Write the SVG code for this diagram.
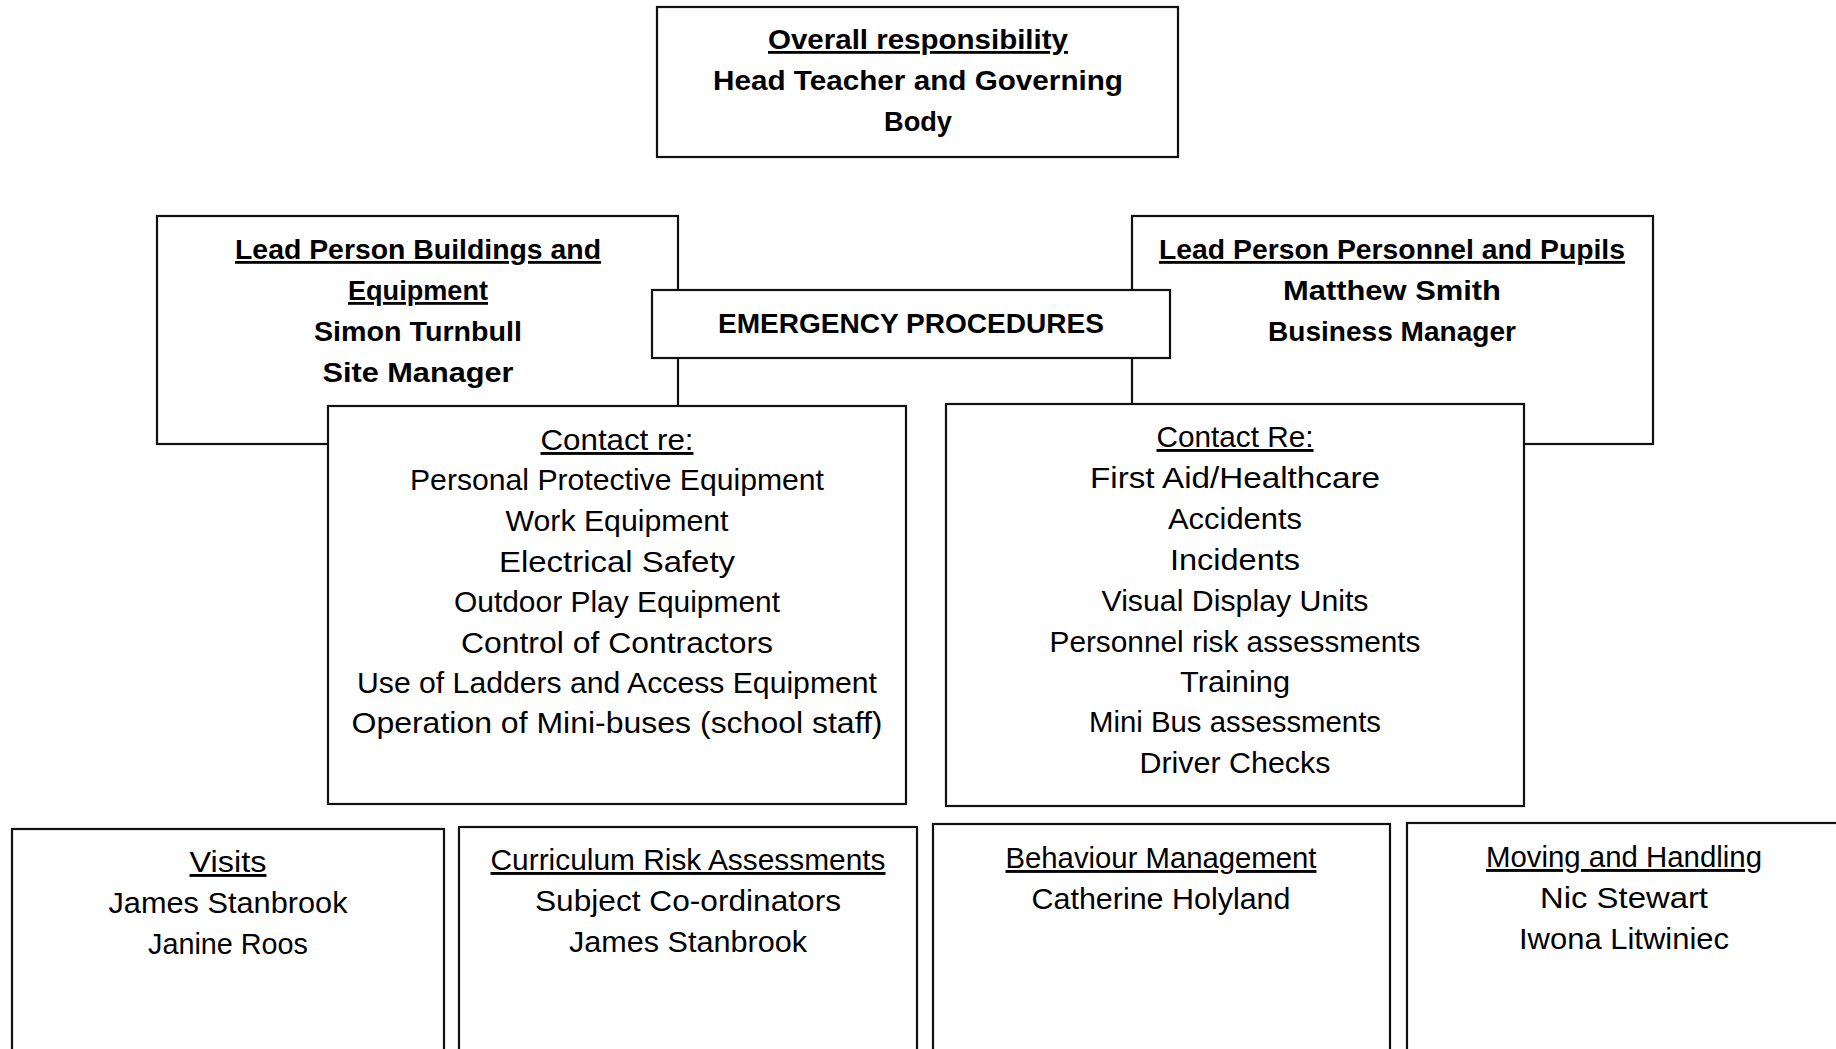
<svg xmlns="http://www.w3.org/2000/svg" width="1836" height="1049" viewBox="0 0 1836 1049">
  <style>
    .box { fill: #ffffff; stroke: #111111; stroke-width: 2.2; }
    text { font-family: "Liberation Sans", Arial, sans-serif; fill: #000000; text-anchor: middle; }
    .b { font-weight: bold; font-size: 28px; }
    .r { font-size: 29px; }
    .u { text-decoration: underline; }
  </style>
  <rect x="0" y="0" width="1836" height="1049" fill="#ffffff"/>

  <!-- Overall responsibility -->
  <g id="overall">
    <rect class="box" x="657" y="7" width="521" height="150"/>
    <text class="b u" x="918" y="49" textLength="300" lengthAdjust="spacingAndGlyphs">Overall responsibility</text>
    <text class="b" x="918" y="90" textLength="410" lengthAdjust="spacingAndGlyphs">Head Teacher and Governing</text>
    <text class="b" x="918" y="131" textLength="68" lengthAdjust="spacingAndGlyphs">Body</text>
  </g>

  <!-- Lead person: buildings and equipment -->
  <g id="lead-buildings">
    <rect class="box" x="157" y="216" width="521" height="228"/>
    <text class="b u" x="418" y="259" textLength="366" lengthAdjust="spacingAndGlyphs">Lead Person Buildings and</text>
    <text class="b u" x="418" y="300" textLength="140" lengthAdjust="spacingAndGlyphs">Equipment</text>
    <text class="b" x="418" y="341" textLength="208" lengthAdjust="spacingAndGlyphs">Simon Turnbull</text>
    <text class="b" x="418" y="382" textLength="191" lengthAdjust="spacingAndGlyphs">Site Manager</text>
  </g>

  <!-- Lead person: personnel and pupils -->
  <g id="lead-personnel">
    <rect class="box" x="1132" y="216" width="521" height="228"/>
    <text class="b u" x="1392" y="259" textLength="466" lengthAdjust="spacingAndGlyphs">Lead Person Personnel and Pupils</text>
    <text class="b" x="1392" y="300" textLength="218" lengthAdjust="spacingAndGlyphs">Matthew Smith</text>
    <text class="b" x="1392" y="341" textLength="248" lengthAdjust="spacingAndGlyphs">Business Manager</text>
  </g>

  <!-- Emergency procedures -->
  <g id="emergency">
    <rect class="box" x="652" y="290" width="518" height="68"/>
    <text class="b" x="911" y="333" textLength="386" lengthAdjust="spacingAndGlyphs">EMERGENCY PROCEDURES</text>
  </g>

  <!-- Contact list: buildings -->
  <g id="contact-buildings">
    <rect class="box" x="328" y="406" width="578" height="398"/>
    <text class="r u" x="617" y="450" textLength="153" lengthAdjust="spacingAndGlyphs">Contact re:</text>
    <text class="r" x="617" y="490" textLength="414" lengthAdjust="spacingAndGlyphs">Personal Protective Equipment</text>
    <text class="r" x="617" y="531" textLength="223" lengthAdjust="spacingAndGlyphs">Work Equipment</text>
    <text class="r" x="617" y="572" textLength="236" lengthAdjust="spacingAndGlyphs">Electrical Safety</text>
    <text class="r" x="617" y="612" textLength="326" lengthAdjust="spacingAndGlyphs">Outdoor Play Equipment</text>
    <text class="r" x="617" y="653" textLength="312" lengthAdjust="spacingAndGlyphs">Control of Contractors</text>
    <text class="r" x="617" y="693" textLength="520" lengthAdjust="spacingAndGlyphs">Use of Ladders and Access Equipment</text>
    <text class="r" x="617" y="733" textLength="531" lengthAdjust="spacingAndGlyphs">Operation of Mini-buses (school staff)</text>
  </g>

  <!-- Contact list: personnel -->
  <g id="contact-personnel">
    <rect class="box" x="946" y="404" width="578" height="402"/>
    <text class="r u" x="1235" y="447" textLength="157" lengthAdjust="spacingAndGlyphs">Contact Re:</text>
    <text class="r" x="1235" y="488" textLength="290" lengthAdjust="spacingAndGlyphs">First Aid/Healthcare</text>
    <text class="r" x="1235" y="529" textLength="134" lengthAdjust="spacingAndGlyphs">Accidents</text>
    <text class="r" x="1235" y="570" textLength="130" lengthAdjust="spacingAndGlyphs">Incidents</text>
    <text class="r" x="1235" y="611" textLength="267" lengthAdjust="spacingAndGlyphs">Visual Display Units</text>
    <text class="r" x="1235" y="652" textLength="371" lengthAdjust="spacingAndGlyphs">Personnel risk assessments</text>
    <text class="r" x="1235" y="692" textLength="110" lengthAdjust="spacingAndGlyphs">Training</text>
    <text class="r" x="1235" y="732" textLength="292" lengthAdjust="spacingAndGlyphs">Mini Bus assessments</text>
    <text class="r" x="1235" y="773" textLength="191" lengthAdjust="spacingAndGlyphs">Driver Checks</text>
  </g>

  <!-- Bottom row -->
  <g id="visits">
    <rect class="box" x="12" y="829" width="432" height="240"/>
    <text class="r u" x="228" y="872" textLength="77" lengthAdjust="spacingAndGlyphs">Visits</text>
    <text class="r" x="228" y="913" textLength="239" lengthAdjust="spacingAndGlyphs">James Stanbrook</text>
    <text class="r" x="228" y="954" textLength="160" lengthAdjust="spacingAndGlyphs">Janine Roos</text>
  </g>

  <g id="curriculum">
    <rect class="box" x="459" y="827" width="458" height="240"/>
    <text class="r u" x="688" y="870" textLength="395" lengthAdjust="spacingAndGlyphs">Curriculum Risk Assessments</text>
    <text class="r" x="688" y="911" textLength="306" lengthAdjust="spacingAndGlyphs">Subject Co-ordinators</text>
    <text class="r" x="688" y="952" textLength="238" lengthAdjust="spacingAndGlyphs">James Stanbrook</text>
  </g>

  <g id="behaviour">
    <rect class="box" x="933" y="824" width="457" height="240"/>
    <text class="r u" x="1161" y="868" textLength="311" lengthAdjust="spacingAndGlyphs">Behaviour Management</text>
    <text class="r" x="1161" y="909" textLength="259" lengthAdjust="spacingAndGlyphs">Catherine Holyland</text>
  </g>

  <g id="moving">
    <rect class="box" x="1407" y="823" width="460" height="240"/>
    <text class="r u" x="1624" y="867" textLength="276" lengthAdjust="spacingAndGlyphs">Moving and Handling</text>
    <text class="r" x="1624" y="908" textLength="168" lengthAdjust="spacingAndGlyphs">Nic Stewart</text>
    <text class="r" x="1624" y="949" textLength="210" lengthAdjust="spacingAndGlyphs">Iwona Litwiniec</text>
  </g>
</svg>
